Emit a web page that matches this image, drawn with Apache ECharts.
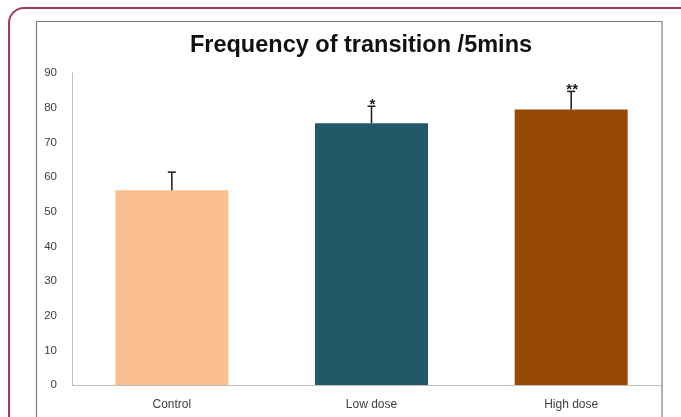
<!DOCTYPE html>
<html>
<head>
<meta charset="utf-8">
<style>
  html, body { margin: 0; padding: 0; background: #ffffff; }
  #chart { width: 681px; height: 417px; }
</style>
<script src="https://cdn.jsdelivr.net/npm/echarts@6/dist/echarts.min.js"></script>
</head>
<body>
<div id="chart"></div>
<script>
// Groups on the category axis
var categories = ['Control', 'Low dose', 'High dose'];
// Mean number of transitions per 5 minutes
var means = [56.2, 75.5, 79.5];
// Upper error (SD) for each group
var errors = [5.2, 4.9, 5.2];
// Significance markers shown above the error bars
var marks = ['', '*', '**'];
// Value axis range and step
var yTicks = { min: 0, max: 90, step: 10 };

var barColors = ['#FAC090', '#215968', '#984807'];
var textColor = '#404040';
var fontFamily = '"Liberation Sans", Arial, sans-serif';

var chart = echarts.init(document.getElementById('chart'), null, { renderer: 'canvas' });

chart.setOption({
  animation: false,
  backgroundColor: '#ffffff',
  title: {
    text: 'Frequency of transition /5mins',
    left: 356,
    textAlign: 'center',
    top: 29,
    textStyle: { fontFamily: fontFamily, fontSize: 23.5, fontWeight: 'bold', color: '#111111' }
  },
  grid: { left: 72, right: 10, top: 73, bottom: 32 },
  xAxis: {
    type: 'category',
    data: categories,
    axisLine: { show: false },
    axisTick: { show: false },
    axisLabel: { color: textColor, fontFamily: fontFamily, fontSize: 12, margin: 14 }
  },
  yAxis: {
    type: 'value',
    min: yTicks.min,
    max: yTicks.max,
    interval: yTicks.step,
    splitLine: { show: false },
    axisTick: { show: false },
    axisLine: { show: true, lineStyle: { color: '#BFBFBF', width: 1 } },
    axisLabel: { color: textColor, fontFamily: fontFamily, fontSize: 11.5, margin: 15 }
  },
  series: [
    {
      type: 'bar',
      barWidth: 113,
      data: means.map(function (v, i) {
        return { value: v, itemStyle: { color: barColors[i] } };
      }),
      z: 2
    },
    {
      type: 'custom',
      z: 3,
      data: means.map(function (v, i) { return [i, v, v + errors[i]]; }),
      renderItem: function (params, api) {
        var i = api.value(0);
        var base = api.coord([i, api.value(1)]);
        var top = api.coord([i, api.value(2)]);
        var half = 4;
        var children = [
          { type: 'line', shape: { x1: base[0], y1: base[1], x2: top[0], y2: top[1] },
            style: { stroke: '#1a1a1a', lineWidth: 1.5 } },
          { type: 'line', shape: { x1: top[0] - half, y1: top[1], x2: top[0] + half, y2: top[1] },
            style: { stroke: '#1a1a1a', lineWidth: 1.5 } }
        ];
        var m = marks[params.dataIndex];
        if (m) {
          children.push({
            type: 'text',
            style: {
              text: m, x: top[0] + 1, y: top[1] + 6,
              align: 'center', verticalAlign: 'bottom',
              font: 'bold 15px ' + fontFamily, fill: '#1a1a1a'
            }
          });
        }
        return { type: 'group', children: children };
      }
    }
  ],
  graphic: [
    // category axis baseline, stopping at the plot frame
    { type: 'line', z: 10, shape: { x1: 72, y1: 385.5, x2: 662, y2: 385.5 },
      style: { stroke: '#BFBFBF', lineWidth: 1 } },
    // chart area frame
    { type: 'rect', z: 10, shape: { x: 36.5, y: 21.5, width: 625.5, height: 420 },
      style: { fill: 'none', stroke: '#7f7f7f', lineWidth: 1.2 } },
    // outer rounded page frame
    { type: 'rect', z: 10, shape: { x: 9, y: 8, width: 690, height: 440, r: 15 },
      style: { fill: 'none', stroke: '#A8385F', lineWidth: 2 } }
  ]
});
</script>
</body>
</html>
